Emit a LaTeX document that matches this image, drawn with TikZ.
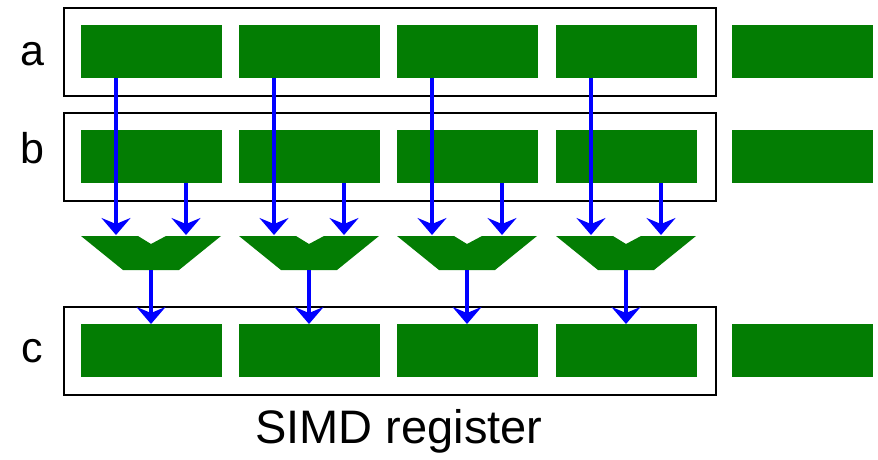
\documentclass[tikz,border=0pt]{standalone}
\usepackage{fontspec}
\setmainfont{Liberation Sans}
\usetikzlibrary{arrows.meta}
\definecolor{cellgreen}{RGB}{3,125,3}
\definecolor{arrblue}{RGB}{0,0,255}
\begin{document}
\begin{tikzpicture}[x=1pt,y=-1pt,
  cell/.style={fill=cellgreen,draw=none,minimum width=141pt,minimum height=53pt,inner sep=0pt,anchor=north west},
  regbox/.style={draw=black,line width=1.5pt,fill=none,minimum width=652pt,minimum height=88pt,inner sep=0pt,anchor=north west},
  alu/.style={fill=cellgreen,draw=none},
  flow/.style={draw=arrblue,line width=3.5pt,-{Stealth[length=17pt,width=29pt,inset=6pt]}},
  lbl/.style={font=\fontsize{43}{43}\selectfont,anchor=base,inner sep=0pt}
]
\useasboundingbox (0,0) rectangle (878,459);
% register boxes
\node[regbox] (boxa) at (63,7) {};
\node[regbox] (boxb) at (63,112) {};
\node[regbox] (boxc) at (63,306) {};
% labels
\node[lbl] (la) at (32,65) {a};
\node[lbl] (lb) at (32,163) {b};
\node[lbl] (lc) at (32,362) {c};
\node[font=\fontsize{47}{47}\selectfont,anchor=base,inner sep=0pt] (title) at (399,443) {SIMD register};
% cells
\foreach \i/\L in {0/81,1/239,2/397,3/556,4/732}{
  \node[cell] (a\i) at (\L,25) {};
  \node[cell] (b\i) at (\L,130) {};
  \node[cell] (c\i) at (\L,324) {};
}
% ALUs and arrows
\foreach \i/\L in {0/81,1/239,2/397,3/556}{
  \fill[alu] (\L,236) -- (\L+57,236) -- (\L+70,244) -- (\L+85,236) -- (\L+140,236)
    -- (\L+98,270) -- (\L+42,270) -- cycle;
  \coordinate (ina\i) at (\L+35,235);
  \coordinate (inb\i) at (\L+105,235);
  \coordinate (out\i) at (\L+70,270);
  \draw[flow] (a\i.south west -| ina\i) -- (ina\i);
  \draw[flow] (b\i.south west -| inb\i) -- (inb\i);
  \draw[flow] (out\i) -- (c\i.north west -| out\i);
}
\end{tikzpicture}
\end{document}
